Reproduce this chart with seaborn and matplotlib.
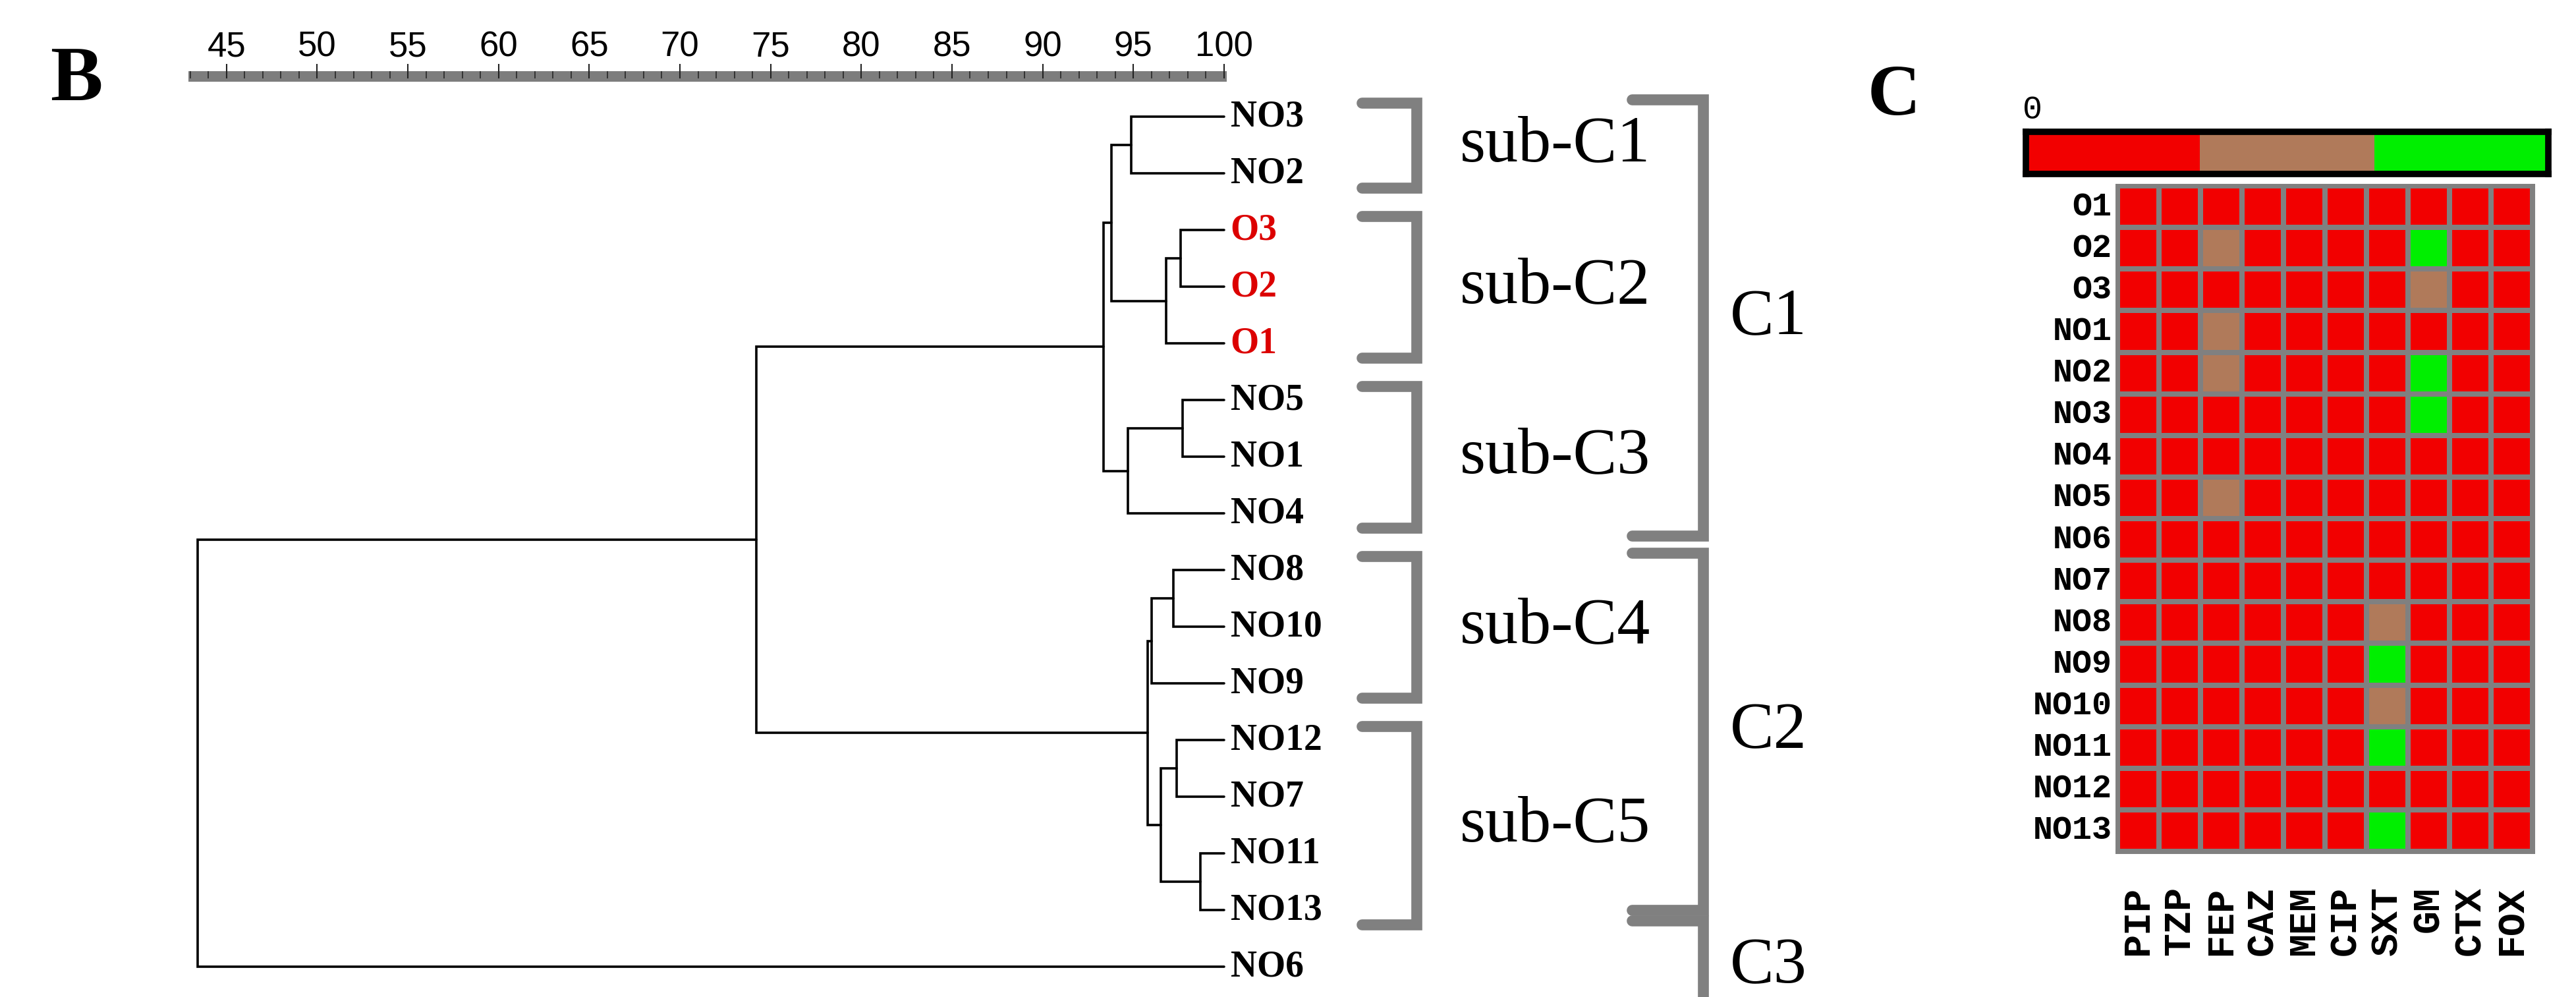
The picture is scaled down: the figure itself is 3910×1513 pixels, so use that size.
import matplotlib
matplotlib.use("Agg")
import numpy as np
import pandas as pd
import matplotlib.pyplot as plt
import seaborn as sns
from matplotlib import font_manager
from matplotlib.colors import ListedColormap

# ---- data ----
# dendrogram leaves, top to bottom
leaves = ["NO3", "NO2", "O3", "O2", "O1", "NO5", "NO1", "NO4",
          "NO8", "NO10", "NO9", "NO12", "NO7", "NO11", "NO13", "NO6"]
# merges: (node, left child, right child, similarity %)
merges = [
    ("m1", "NO3", "NO2", 94.9),
    ("m2", "O3", "O2", 97.6),
    ("m3", "m2", "O1", 96.8),
    ("m4", "m1", "m3", 93.8),
    ("m5", "NO5", "NO1", 97.7),
    ("m6", "m5", "NO4", 94.7),
    ("C1", "m4", "m6", 93.35),
    ("m8", "NO8", "NO10", 97.2),
    ("m9", "m8", "NO9", 96.0),
    ("m10", "NO12", "NO7", 97.4),
    ("m11", "NO11", "NO13", 98.7),
    ("m12", "m10", "m11", 96.5),
    ("C2", "m9", "m12", 95.8),
    ("m14", "C1", "C2", 74.2),
    ("root", "m14", "NO6", 43.4),
]
sub_clusters = [("sub-C1", "NO3", "NO2"), ("sub-C2", "O3", "O1"),
                ("sub-C3", "NO5", "NO4"), ("sub-C4", "NO8", "NO9"),
                ("sub-C5", "NO12", "NO13")]
main_clusters = [("C1", "NO3", "NO4"), ("C2", "NO8", "NO13"), ("C3", "NO6", "NO6")]
ruler_ticks = list(range(45, 101, 5))

# resistance profile (0 = R, 1 = I, 2 = S)
isolates = ["O1", "O2", "O3", "NO1", "NO2", "NO3", "NO4", "NO5", "NO6",
            "NO7", "NO8", "NO9", "NO10", "NO11", "NO12", "NO13"]
antibiotics = ["PIP", "TZP", "FEP", "CAZ", "MEM", "CIP", "SXT", "GM", "CTX", "FOX"]
profile = [
    [0, 0, 0, 0, 0, 0, 0, 0, 0, 0],
    [0, 0, 1, 0, 0, 0, 0, 2, 0, 0],
    [0, 0, 0, 0, 0, 0, 0, 1, 0, 0],
    [0, 0, 1, 0, 0, 0, 0, 0, 0, 0],
    [0, 0, 1, 0, 0, 0, 0, 2, 0, 0],
    [0, 0, 0, 0, 0, 0, 0, 2, 0, 0],
    [0, 0, 0, 0, 0, 0, 0, 0, 0, 0],
    [0, 0, 1, 0, 0, 0, 0, 0, 0, 0],
    [0, 0, 0, 0, 0, 0, 0, 0, 0, 0],
    [0, 0, 0, 0, 0, 0, 0, 0, 0, 0],
    [0, 0, 0, 0, 0, 0, 1, 0, 0, 0],
    [0, 0, 0, 0, 0, 0, 2, 0, 0, 0],
    [0, 0, 0, 0, 0, 0, 1, 0, 0, 0],
    [0, 0, 0, 0, 0, 0, 2, 0, 0, 0],
    [0, 0, 0, 0, 0, 0, 0, 0, 0, 0],
    [0, 0, 0, 0, 0, 0, 2, 0, 0, 0],
]
df_profile = pd.DataFrame(profile, index=isolates, columns=antibiotics)
cat_colors = ["#f20000", "#b07a5a", "#00ef00"]

# ---- figure ----
sns.set_theme(style="white")
plt.rcParams["font.family"] = ["Liberation Serif", "DejaVu Serif"]
plt.rcParams["text.color"] = "black"
plt.rcParams["xtick.color"] = "black"
plt.rcParams["ytick.color"] = "black"
W, H = 3910, 1513
fig = plt.figure(figsize=(W / 100, H / 100), dpi=100)
fig.patch.set_facecolor("white")

# narrow sans for the ruler numbers if we have it
installed = {f.name for f in font_manager.fontManager.ttflist}
if "Liberation Sans Narrow" in installed:
    ruler_font, ruler_size = "Liberation Sans Narrow", 40
else:
    ruler_font, ruler_size = "Liberation Sans", 38

xmin, xmax = 42.9, 100.15
left, width = 286 / W, 1576 / W

# ruler on top
ax_r = fig.add_axes([left, 1 - 124 / H, width, 16 / H])
ax_r.set_facecolor("#7d7d7d")
ax_r.set_xlim(xmin, xmax)
ax_r.set_yticks([])
for s in ax_r.spines.values():
    s.set_visible(False)
ax_r.xaxis.tick_top()
ax_r.set_xticks(ruler_ticks)
ax_r.set_xticklabels([str(t) for t in ruler_ticks], fontsize=ruler_size,
                     family=ruler_font)
ax_r.set_xticks(np.arange(43, 101), minor=True)
ax_r.tick_params(axis="x", which="major", direction="inout", length=16, width=1.5,
                 color="#222222", pad=0, top=True, bottom=False)
ax_r.tick_params(axis="x", which="minor", direction="in", length=8, width=1.4,
                 color="#333333", top=True, bottom=False)

# dendrogram
step = 86.0
y_top = -177 / step
y_bot = (H - 177) / step
ax_d = fig.add_axes([left, 0, width, 1])
ax_d.set_xlim(xmin, xmax)
ax_d.set_ylim(y_bot, y_top)
ax_d.axis("off")

pos = {name: (100.0, i) for i, name in enumerate(leaves)}
for node, a, b, h in merges:
    xa, ya = pos[a]
    xb, yb = pos[b]
    ax_d.plot([xa, h, h, xb], [ya, ya, yb, yb], color="black", lw=2.6,
              solid_joinstyle="miter", clip_on=False)
    pos[node] = (h, (ya + yb) / 2)

for i, name in enumerate(leaves):
    ax_d.text(100.35, i, name, ha="left", va="center", fontsize=40, fontweight="bold",
              color="#dc0000" if name.startswith("O") else "black", clip_on=False)

grey = "#808080"
# sub-cluster brackets
sub_arm, sub_vert, sub_text = 107.6, 110.6, 113.0
for label, first, last in sub_clusters:
    y0 = leaves.index(first) - 0.25
    y1 = leaves.index(last) + 0.25
    ax_d.plot([sub_arm, sub_vert, sub_vert, sub_arm], [y0, y0, y1, y1], color=grey,
              lw=12, solid_joinstyle="miter", clip_on=False)
    ax_d.text(sub_text, (y0 + y1) / 2, label, ha="left", va="center", fontsize=72,
              clip_on=False)

# main cluster brackets (top / bottom padding in leaf units)
c_arm, c_vert, c_text = 122.5, 126.4, 127.9
c_pads = [(0.3, 0.4), (0.3, 0.0), (0.81, None)]
for (label, first, last), (pad0, pad1) in zip(main_clusters, c_pads):
    y0 = leaves.index(first) - pad0
    if pad1 is None:
        ax_d.plot([c_arm, c_vert, c_vert], [y0, y0, y_bot + 1], color=grey,
                  lw=12, solid_joinstyle="miter", clip_on=False)
        ty = leaves.index(first)
    else:
        y1 = leaves.index(last) + pad1
        ax_d.plot([c_arm, c_vert, c_vert, c_arm], [y0, y0, y1, y1], color=grey,
                  lw=12, solid_joinstyle="miter", clip_on=False)
        ty = (y0 + y1) / 2
    ax_d.text(c_text, ty, label, ha="left", va="center", fontsize=72, clip_on=False)

fig.text(116 / W, 1 - 152 / H, "B", ha="center", va="baseline", fontsize=86,
         fontweight="bold")
fig.text(2875 / W, 1 - 174 / H, "C", ha="center", va="baseline", fontsize=80,
         fontweight="bold")

# heatmap
mono = ["Liberation Mono", "DejaVu Sans Mono"]
ax_h = fig.add_axes([3214 / W, 1 - 1292 / H, 630 / W, 1010 / H])
sns.heatmap(df_profile, ax=ax_h, cmap=ListedColormap(cat_colors), vmin=0, vmax=2,
            linewidths=5.5, linecolor=grey, cbar=False)
for s in ax_h.spines.values():
    s.set_visible(True)
    s.set_color(grey)
    s.set_linewidth(5)
ax_h.tick_params(axis="both", length=0)
ax_h.tick_params(axis="x", pad=38)
ax_h.tick_params(axis="y", pad=6)
ax_h.set_xticklabels(antibiotics, rotation=90, fontsize=42, fontweight="bold",
                     family=mono)
ax_h.set_yticklabels(isolates, rotation=0, fontsize=36, fontweight="bold",
                     family=mono)
ax_h.set_xlabel("")
ax_h.set_ylabel("")

# colour key
ax_k = fig.add_axes([3075 / W, 1 - 264 / H, 793 / W, 64 / H])
sns.heatmap([[0, 1, 2]], ax=ax_k, cmap=ListedColormap(cat_colors), vmin=0, vmax=2,
            cbar=False, xticklabels=False, yticklabels=False)
for s in ax_k.spines.values():
    s.set_visible(True)
    s.set_color("black")
    s.set_linewidth(7)
fig.text(3085 / W, 1 - 180 / H, "0", ha="center", va="baseline", fontsize=36,
         family=mono)

fig.savefig("out.png", dpi=100, facecolor="white")
